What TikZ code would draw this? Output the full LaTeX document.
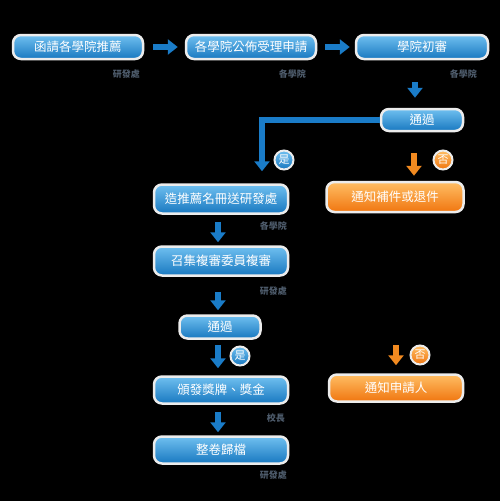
\documentclass[tikz,border=0pt]{standalone}
\usepackage{fontspec}
\newfontfamily\cjk{Noto Sans CJK TC}
\usepackage{tikz}
\usetikzlibrary{arrows.meta}

\definecolor{bluetop}{RGB}{112,192,240}
\definecolor{bluebot}{RGB}{24,120,192}
\definecolor{orgtop}{RGB}{255,190,100}
\definecolor{orgbot}{RGB}{240,118,16}
\definecolor{arrblue}{RGB}{26,124,200}
\definecolor{arrorg}{RGB}{242,138,32}
\definecolor{notegray}{RGB}{78,92,108}

\begin{document}
\begin{tikzpicture}[x=1pt,y=-1pt,
  box/.style={rounded corners=8pt,draw=white!85!gray,line width=2.5pt,
    top color=bluetop,bottom color=bluebot,text=white,inner sep=0pt,
    font=\cjk\fontsize{12.5}{14}\selectfont,minimum height=24pt},
  orgbox/.style={box,top color=orgtop,bottom color=orgbot},
  yesdot/.style={circle,draw=white!85!gray,line width=2pt,inner sep=0pt,
    top color=bluetop,bottom color=bluebot,text=white,minimum size=19pt,
    font=\cjk\fontsize{11}{11}\selectfont},
  nodot/.style={yesdot,top color=orgtop,bottom color=orgbot},
  note/.style={text=notegray,font=\cjk\bfseries\fontsize{9}{10}\selectfont,anchor=east,inner sep=0pt},
  barr/.style={line width=6pt,arrblue,-{Triangle[width=15pt,length=10pt]}},
  oarr/.style={barr,arrorg}]

\fill[black] (0,0) rectangle (500,501);
\useasboundingbox (0,0) rectangle (500,501);

% top row
\node[box,minimum width=130pt] (invite) at (78,47) {函請各學院推薦};
\node[box,minimum width=130pt] (accept) at (251,47) {各學院公佈受理申請};
\node[box,minimum width=132pt] (first) at (422,47) {學院初審};
\node[note] (n1) at (140,74) {研發處};
\node[note] (n2) at (306,74) {各學院};
\node[note] (n3) at (477,74) {各學院};

% first check
\node[box,minimum width=82pt,minimum height=22pt] (pass1) at (422,120) {通過};
\node[box,minimum width=134pt,minimum height=29pt] (list) at (221,199) {造推薦名冊送研發處};
\node[orgbox,minimum width=137pt,minimum height=30pt] (reject) at (395,197) {通知補件或退件};
\node[yesdot] (yes1) at (284,160) {是};
\node[nodot] (no1) at (443,160) {否};
\node[note] (n4) at (287,226) {各學院};

% review
\node[box,minimum width=134pt,minimum height=29pt] (review) at (221,261) {召集複審委員複審};
\node[note] (n5) at (287,291) {研發處};
\node[box,minimum width=81pt,minimum height=23pt] (pass2) at (220,327) {通過};
\node[yesdot] (yes2) at (240,356) {是};
\node[box,minimum width=134pt,minimum height=27pt] (award) at (221,390) {頒發獎牌、獎金};
\node[note] (n6) at (285,418) {校長};
\node[box,minimum width=134pt,minimum height=27pt] (file) at (221,450) {整卷歸檔};
\node[note] (n7) at (287,475) {研發處};
\node[orgbox,minimum width=134pt,minimum height=27pt] (notify) at (396,388) {通知申請人};
\node[nodot] (no2) at (420,355) {否};

% connectors
\draw[barr,shorten <=9pt,shorten >=7pt] (invite) -- (accept);
\draw[barr,shorten <=8pt,shorten >=5pt] (accept) -- (first);
\draw[barr,shorten <=22pt,shorten >=10pt] ([xshift=-7pt]first.south) -- ([xshift=-7pt]pass1.north);
\draw[barr,shorten >=12pt] (pass1.west) -| ([xshift=41pt]list.north);
\draw[oarr,shorten <=21pt,shorten >=5pt] ([xshift=-8pt]pass1.south) -- ([xshift=19pt]reject.north);
\draw[barr,shorten <=7pt,shorten >=3pt] ([xshift=-3pt]list.south) -- ([xshift=-3pt]review.north);
\draw[barr,shorten <=15pt,shorten >=4pt] ([xshift=-3pt]review.south) -- ([xshift=-2pt]pass2.north);
\draw[barr,shorten <=5pt,shorten >=7pt] ([xshift=-2pt]pass2.south) -- ([xshift=-3pt]award.north);
\draw[barr,shorten <=7pt,shorten >=3pt] ([xshift=-3pt]award.south) -- ([xshift=-3pt]file.north);
\draw[oarr,shorten <=5pt,shorten >=8pt] (notify.north |- pass2.south) -- (notify.north);

\end{tikzpicture}
\end{document}
